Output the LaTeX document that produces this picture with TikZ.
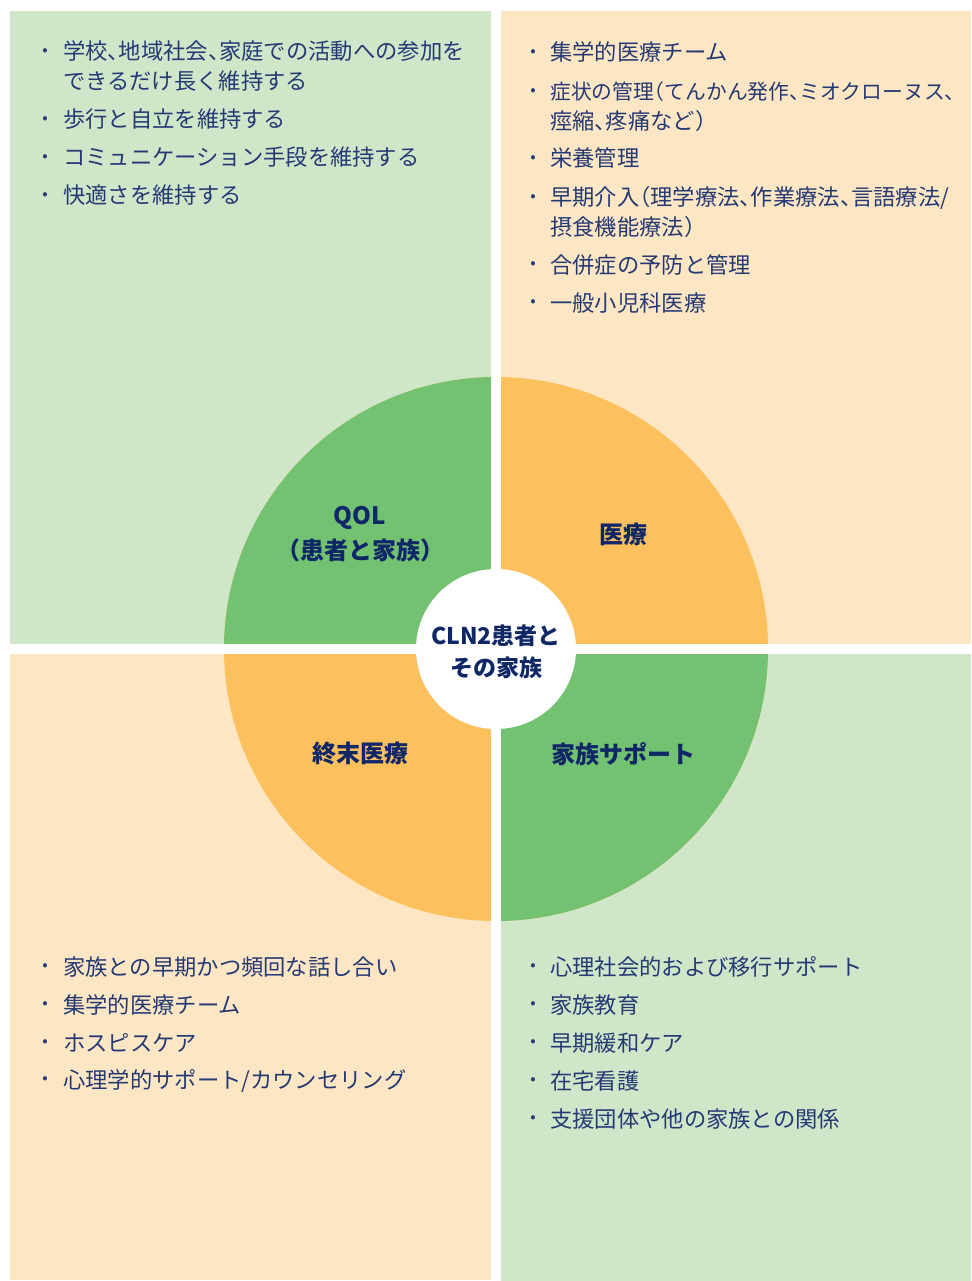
\documentclass[tikz,border=0pt]{standalone}
\usepackage{fontspec}
\setmainfont{Noto Sans CJK JP}[RawFeature=+halt]
\definecolor{lgreen}{HTML}{CFE6C9}
\definecolor{lorange}{HTML}{FDE6C3}
\definecolor{dgreen}{HTML}{72C272}
\definecolor{dorange}{HTML}{FCC15C}
\definecolor{txt}{HTML}{253A74}
\definecolor{hd}{HTML}{0F2767}
\begin{document}
\begin{tikzpicture}[x=1pt,y=-1pt,
  body/.style={anchor=base west,inner sep=0pt,text=txt,font=\fontsize{22.3}{26}\selectfont},
  bul/.style={anchor=center,inner sep=0pt,text=txt,font=\fontsize{16}{18}\selectfont},
  lab/.style={align=center,inner sep=0pt,text=hd,font=\bfseries\fontsize{24}{35}\selectfont}]
\useasboundingbox (0,0) rectangle (971,1281);
\fill[white] (0,0) rectangle (971,1281);
% backgrounds
\fill[lgreen] (10,11) rectangle (491,644);
\fill[lorange] (501,11) rectangle (971,644);
\fill[lorange] (10,654) rectangle (491,1280);
\fill[lgreen] (501,654) rectangle (971,1281);
% big circle
\coordinate (c) at (496,649);
\fill[dorange] (c) circle[radius=272pt];
\begin{scope}
  \clip (200,360) rectangle (496,649);
  \fill[dgreen] (c) circle[radius=272pt];
\end{scope}
\begin{scope}
  \clip (496,649) rectangle (800,940);
  \fill[dgreen] (c) circle[radius=272pt];
\end{scope}
% white cross
\fill[white] (491,0) rectangle (501,1281);
\fill[white] (10,644) rectangle (971,654);
\fill[white] (c) circle[radius=80pt];
% labels
\node[lab] (qol) at (360,534) {QOL\\（患者と家族）};
\node[lab] (med) at (623,534) {医療};
\node[lab,font=\bfseries\fontsize{23}{32}\selectfont] (ctr) at (496,652) {CLN2患者と\\その家族};
\node[lab] (eol) at (360,754) {終末医療};
\node[lab] (fam) at (623,754) {家族サポート};
% top-left
\node[bul] (b11) at (45,52) {•};
\node[body] (t11) at (63,60) {学校、地域社会、家庭での活動への参加を};
\node[body] (t12) at (63,90) {できるだけ長く維持する};
\node[bul] (b12) at (45,120) {•};
\node[body] (t13) at (63,128) {歩行と自立を維持する};
\node[bul] (b13) at (45,158) {•};
\node[body] (t14) at (63,166) {コミュニケーション手段を維持する};
\node[bul] (b14) at (45,196) {•};
\node[body] (t15) at (63,204) {快適さを維持する};
% top-right
\node[bul] (b21) at (533,53) {•};
\node[body] (t21) at (550,61) {集学的医療チーム};
\node[bul] (b22) at (533,92) {•};
\node[body,font=\fontsize{20.8}{26}\selectfont] (t22) at (550,100) {症状の管理（てんかん発作、ミオクローヌス、};
\node[body] (t23) at (550,130) {痙縮、疼痛など）};
\node[bul] (b23) at (533,159) {•};
\node[body] (t24) at (550,167) {栄養管理};
\node[bul] (b24) at (533,198) {•};
\node[body] (t25) at (550,206) {早期介入（理学療法、作業療法、言語療法/};
\node[body] (t26) at (550,236) {摂食機能療法）};
\node[bul] (b25) at (533,265) {•};
\node[body] (t27) at (550,273) {合併症の予防と管理};
\node[bul] (b26) at (533,303) {•};
\node[body] (t28) at (550,311) {一般小児科医療};
% bottom-left
\node[bul] (b31) at (45,967) {•};
\node[body] (t31) at (63,975) {家族との早期かつ頻回な話し合い};
\node[bul] (b32) at (45,1005) {•};
\node[body] (t32) at (63,1013) {集学的医療チーム};
\node[bul] (b33) at (45,1043) {•};
\node[body] (t33) at (63,1051) {ホスピスケア};
\node[bul] (b34) at (45,1080) {•};
\node[body] (t34) at (63,1088) {心理学的サポート/カウンセリング};
% bottom-right
\node[bul] (b41) at (533,967) {•};
\node[body] (t41) at (550,975) {心理社会的および移行サポート};
\node[bul] (b42) at (533,1005) {•};
\node[body] (t42) at (550,1013) {家族教育};
\node[bul] (b43) at (533,1043) {•};
\node[body] (t43) at (550,1051) {早期緩和ケア};
\node[bul] (b44) at (533,1081) {•};
\node[body] (t44) at (550,1089) {在宅看護};
\node[bul] (b45) at (533,1119) {•};
\node[body] (t45) at (550,1127) {支援団体や他の家族との関係};
\end{tikzpicture}
\end{document}
